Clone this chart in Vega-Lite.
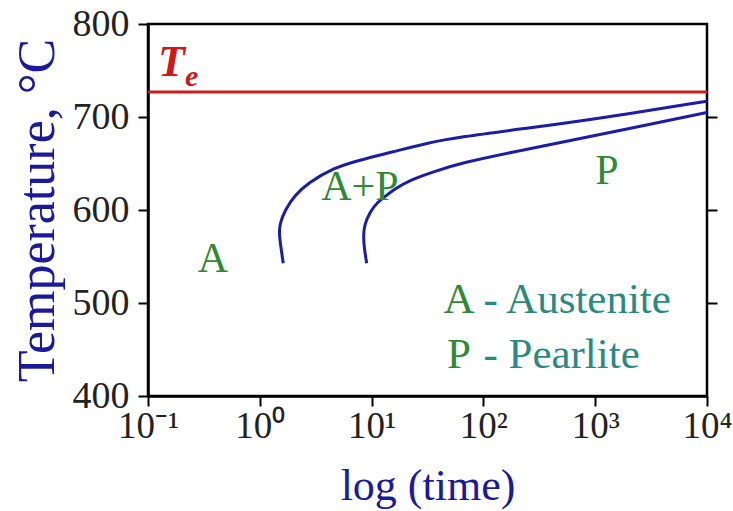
{
  "$schema": "https://vega.github.io/schema/vega-lite/v6.json",
  "width": 559,
  "height": 372,
  "autosize": {"type": "none"},
  "padding": {"left": 148, "top": 24, "right": 26, "bottom": 115},
  "background": "white",
  "config": {
    "view": {"stroke": "black", "strokeWidth": 2.5},
    "font": "Liberation Serif"
  },
  "resolve": {"scale": {"y": "independent"}, "axis": {"y": "independent"}},
  "layer": [
    {
      "data": {"values": [
        {"curve": "start", "t": 1.62, "T": 542.7},
        {"curve": "start", "t": 1.548, "T": 559.1},
        {"curve": "start", "t": 1.485, "T": 575.3},
        {"curve": "start", "t": 1.516, "T": 586},
        {"curve": "start", "t": 1.68, "T": 600},
        {"curve": "start", "t": 2.065, "T": 616.1},
        {"curve": "start", "t": 2.70, "T": 629},
        {"curve": "start", "t": 4.52, "T": 645.2},
        {"curve": "start", "t": 7.87, "T": 653.8},
        {"curve": "start", "t": 15.5, "T": 662.4},
        {"curve": "start", "t": 31.3, "T": 672},
        {"curve": "start", "t": 61.8, "T": 678.5},
        {"curve": "start", "t": 234, "T": 687.6},
        {"curve": "start", "t": 897, "T": 696.8},
        {"curve": "start", "t": 10000, "T": 717},
        {"curve": "finish", "t": 9.04, "T": 542.7},
        {"curve": "finish", "t": 8.64, "T": 557},
        {"curve": "finish", "t": 8.43, "T": 571.3},
        {"curve": "finish", "t": 8.60, "T": 583.9},
        {"curve": "finish", "t": 9.68, "T": 598.2},
        {"curve": "finish", "t": 11.4, "T": 608.9},
        {"curve": "finish", "t": 13.2, "T": 614.3},
        {"curve": "finish", "t": 15.5, "T": 621.5},
        {"curve": "finish", "t": 22.0, "T": 632.3},
        {"curve": "finish", "t": 35.4, "T": 640.9},
        {"curve": "finish", "t": 61.8, "T": 650.5},
        {"curve": "finish", "t": 234, "T": 665},
        {"curve": "finish", "t": 897, "T": 678.8},
        {"curve": "finish", "t": 10000, "T": 705}
      ]},
      "mark": {"type": "line", "color": "#1c1ca8", "strokeWidth": 3, "interpolate": "basis", "clip": true},
      "encoding": {
        "x": {
          "field": "t", "type": "quantitative",
          "scale": {"type": "log", "domain": [0.1, 10000]},
          "axis": {
            "values": [0.1, 1, 10, 100, 1000, 10000],
            "labelExpr": "datum.value < 0.5 ? '10⁻¹' : datum.value < 5 ? '10⁰' : datum.value < 50 ? '10¹' : datum.value < 500 ? '10²' : datum.value < 5000 ? '10³' : '10⁴'",
            "labelFont": "Liberation Serif", "labelFontSize": 37, "labelColor": "#222222",
            "labelPadding": 2, "labelFlush": false,
            "tickColor": "black", "tickSize": 10, "tickWidth": 2,
            "domainColor": "black", "domainWidth": 2.5, "grid": false,
            "title": "log (time)", "titleFont": "Liberation Serif", "titleFontSize": 44,
            "titleFontWeight": "normal", "titleColor": "#1a1a9a", "titlePadding": 20
          }
        },
        "y": {
          "field": "T", "type": "quantitative",
          "scale": {"domain": [400, 800], "zero": false},
          "axis": {
            "orient": "left",
            "values": [400, 500, 600, 700, 800],
            "labelFont": "Liberation Serif", "labelFontSize": 38, "labelColor": "#222222",
            "labelPadding": 9,
            "tickColor": "black", "tickSize": 10, "tickWidth": 2,
            "domainColor": "black", "domainWidth": 2.5, "grid": false,
            "title": "Temperature, °C", "titleFont": "Liberation Serif", "titleFontSize": 52,
            "titleFontWeight": "normal", "titleColor": "#1a1a9a", "titlePadding": 8
          }
        },
        "detail": {"field": "curve", "type": "nominal"},
        "order": {"field": "T", "type": "quantitative"}
      }
    },
    {
      "data": {"values": [{"T": 727}]},
      "mark": {"type": "rule", "color": "#c8201e", "strokeWidth": 3},
      "encoding": {
        "y": {
          "field": "T", "type": "quantitative",
          "scale": {"domain": [400, 800], "zero": false},
          "axis": {
            "orient": "right", "values": [500, 600, 700], "labels": false,
            "tickColor": "black", "tickSize": 10, "tickWidth": 2,
            "domain": false, "grid": false, "title": null
          }
        }
      }
    },
    {
      "data": {"values": [{"t": 0.1228, "T": 744, "text": "T"}]},
      "mark": {"type": "text", "align": "left", "baseline": "alphabetic", "font": "Liberation Serif", "fontSize": 44, "fontStyle": "italic", "fontWeight": "bold", "color": "#d01818"},
      "encoding": {
        "x": {"field": "t", "type": "quantitative"},
        "y": {"field": "T", "type": "quantitative", "scale": {"domain": [400, 800], "zero": false}, "axis": null},
        "text": {"field": "text"}
      }
    },
    {
      "data": {"values": [{"t": 0.2144, "T": 733.3, "text": "e"}]},
      "mark": {"type": "text", "align": "left", "baseline": "alphabetic", "font": "Liberation Serif", "fontSize": 30, "fontStyle": "italic", "fontWeight": "bold", "color": "#d01818"},
      "encoding": {
        "x": {"field": "t", "type": "quantitative"},
        "y": {"field": "T", "type": "quantitative", "scale": {"domain": [400, 800], "zero": false}, "axis": null},
        "text": {"field": "text"}
      }
    },
    {
      "data": {"values": [
        {"t": 0.381, "T": 547, "text": "A"},
        {"t": 7.87, "T": 624.7, "text": "A+P"},
        {"t": 1276, "T": 642, "text": "P"}
      ]},
      "mark": {"type": "text", "align": "center", "baseline": "middle", "font": "Liberation Serif", "fontSize": 42, "color": "#2f8a34"},
      "encoding": {
        "x": {"field": "t", "type": "quantitative"},
        "y": {"field": "T", "type": "quantitative", "scale": {"domain": [400, 800], "zero": false}, "axis": null},
        "text": {"field": "text"}
      }
    },
    {
      "data": {"values": [
        {"t": 60.5, "T": 503, "text": "A"},
        {"t": 60.5, "T": 444, "text": "P"}
      ]},
      "mark": {"type": "text", "align": "center", "baseline": "middle", "font": "Liberation Serif", "fontSize": 43, "color": "#2f8a34"},
      "encoding": {
        "x": {"field": "t", "type": "quantitative"},
        "y": {"field": "T", "type": "quantitative", "scale": {"domain": [400, 800], "zero": false}, "axis": null},
        "text": {"field": "text"}
      }
    },
    {
      "data": {"values": [
        {"t": 100, "T": 503, "text": "- Austenite"},
        {"t": 100, "T": 444, "text": "- Pearlite"}
      ]},
      "mark": {"type": "text", "align": "left", "baseline": "middle", "font": "Liberation Serif", "fontSize": 43, "color": "#2a8a82"},
      "encoding": {
        "x": {"field": "t", "type": "quantitative"},
        "y": {"field": "T", "type": "quantitative", "scale": {"domain": [400, 800], "zero": false}, "axis": null},
        "text": {"field": "text"}
      }
    }
  ]
}
